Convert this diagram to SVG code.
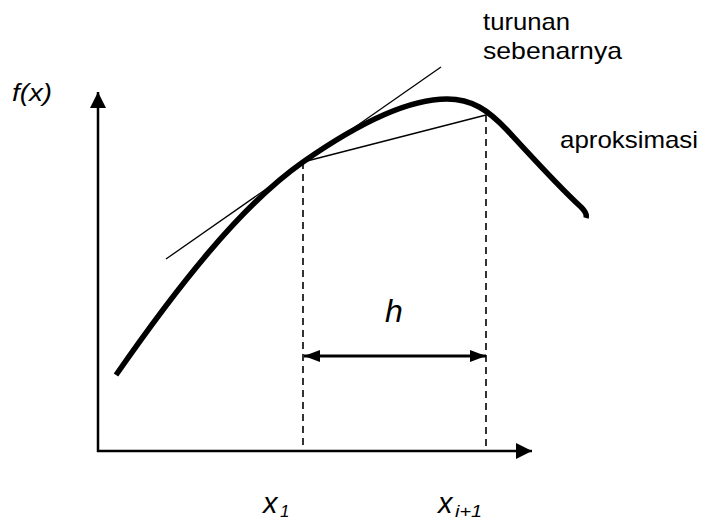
<svg xmlns="http://www.w3.org/2000/svg" width="704" height="524" viewBox="0 0 704 524">
<defs>
<style>
.t{font-family:"Liberation Sans",Arial,sans-serif;fill:#000}
.i{font-style:italic}
.axis{stroke:#000;stroke-width:2.5;fill:none}
.thin{stroke:#000;stroke-width:1.3;fill:none}
.dash{stroke:#000;stroke-width:1.6;stroke-dasharray:7 5;fill:none}
.curve{stroke:#000;stroke-width:5.5;fill:none;stroke-linecap:butt;stroke-linejoin:round}
.dim{stroke:#000;stroke-width:3;fill:none}
</style>
<marker id="ax" viewBox="0 0 16 16" refX="16" refY="8" markerWidth="16" markerHeight="16" markerUnits="userSpaceOnUse" orient="auto">
<path d="M0,0 L16,8 L0,16 Z" fill="#000"/>
</marker>
<marker id="hd" viewBox="0 0 16 12" refX="16" refY="6" markerWidth="16" markerHeight="12" markerUnits="userSpaceOnUse" orient="auto-start-reverse">
<path d="M0,0 L16,6 L0,12 Z" fill="#000"/>
</marker>
</defs>
<rect width="704" height="524" fill="#fff"/>
<g id="axes">
<line class="axis" x1="98" y1="452" x2="98" y2="92" marker-end="url(#ax)"/>
<line class="axis" x1="97" y1="451" x2="532" y2="451" marker-end="url(#ax)"/>
</g>
<g id="connectors">
<line class="dash" x1="303" y1="162" x2="303" y2="451"/>
<line class="dash" x1="486" y1="115" x2="486" y2="451"/>
<line class="thin" x1="166" y1="259" x2="441" y2="67"/>
<line class="thin" x1="303" y1="162" x2="486" y2="115"/>
<line class="dim" x1="304" y1="356" x2="486" y2="356" marker-start="url(#hd)" marker-end="url(#hd)"/>
</g>
<g id="curve">
<path class="curve" d="M116,375 C175,290 240,206 303,162 C363,120 410,99 447,99 C472,99 488,110 507,130 C530,155 560,188 581,207 C586,212 587,215 586,218"/>
</g>
<g id="labels">
<text class="t i" x="12" y="101" font-size="24" textLength="40" lengthAdjust="spacingAndGlyphs">f(x)</text>
<text class="t" x="483" y="30" font-size="24" textLength="87" lengthAdjust="spacingAndGlyphs">turunan</text>
<text class="t" x="483" y="59" font-size="24" textLength="139" lengthAdjust="spacingAndGlyphs">sebenarnya</text>
<text class="t" x="560" y="148" font-size="24" textLength="138" lengthAdjust="spacingAndGlyphs">aproksimasi</text>
<text class="t i" x="385" y="322" font-size="32">h</text>
<text class="t i" x="263" y="513" font-size="29">x</text>
<text class="t i" x="280" y="517" font-size="17">1</text>
<text class="t i" x="438" y="513" font-size="29">x</text>
<text class="t i" x="455" y="517" font-size="17" textLength="27" lengthAdjust="spacingAndGlyphs">i+1</text>
</g>
</svg>
